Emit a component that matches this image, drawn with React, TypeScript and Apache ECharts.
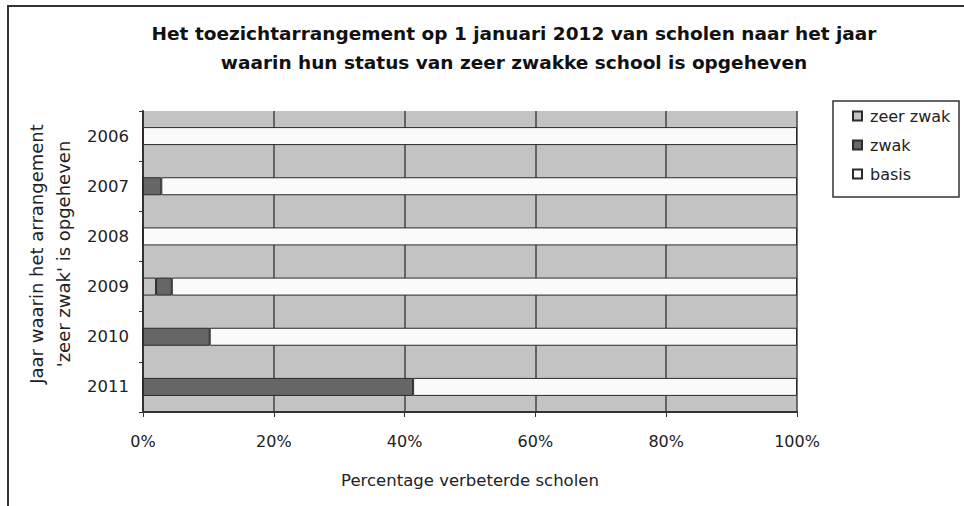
import React, { useEffect, useRef } from "react";
import * as echarts from "echarts";

const categories = ["2006", "2007", "2008", "2009", "2010", "2011"];
const zeerZwak = [0, 0, 0, 2.0, 0, 0];
const zwak = [0, 2.8, 0, 2.4, 10.2, 41.3];
const basis = [100, 97.2, 100, 95.6, 89.8, 58.7];
const xTicks = [0, 20, 40, 60, 80, 100];

const FONT = "DejaVu Sans, Verdana, sans-serif";

export default function App() {
  const ref = useRef<HTMLDivElement>(null);
  useEffect(() => {
    if (!ref.current) return;
    const chart = echarts.init(ref.current, undefined, { renderer: "svg" });
    const barBase = {
      type: "bar",
      stack: "total",
      barWidth: 18,
      itemStyle: { borderColor: "#2a2a2a", borderWidth: 1 },
    };
    chart.setOption({
      animation: false,
      backgroundColor: "#ffffff",
      textStyle: { fontFamily: FONT },
      title: {
        text: "Het toezichtarrangement op 1 januari 2012 van scholen naar het jaar\nwaarin hun status van zeer zwakke school is opgeheven",
        left: 509,
        top: 14,
        textAlign: "center",
        textStyle: {
          fontFamily: FONT,
          fontSize: 18.5,
          fontWeight: "bold",
          color: "#111",
          lineHeight: 29,
        },
      },
      legend: {
        orient: "vertical",
        left: 852,
        top: 108,
        padding: 0,
        itemWidth: 9,
        itemHeight: 9,
        itemGap: 13,
        icon: "rect",
        data: ["zeer zwak", "zwak", "basis"],
        textStyle: { fontFamily: FONT, fontSize: 16, color: "#222", padding: [0, 0, 0, 3] },
      },
      graphic: [
        {
          type: "rect",
          shape: { x: 8, y: 6, width: 1000, height: 600 },
          style: { fill: "none", stroke: "#333", lineWidth: 2 },
          silent: true,
        },
        {
          type: "rect",
          shape: { x: 833, y: 101, width: 126, height: 96 },
          style: { fill: "none", stroke: "#333", lineWidth: 1.5 },
          silent: true,
        },
        {
          type: "text",
          x: 50,
          y: 254,
          rotation: Math.PI / 2,
          style: {
            text: "Jaar waarin het arrangement\n'zeer zwak' is opgeheven",
            fontFamily: FONT,
            fontSize: 18,
            lineHeight: 27,
            fill: "#222",
            textAlign: "center",
            textVerticalAlign: "middle",
          },
        },
      ],
      grid: {
        left: 143,
        top: 111,
        width: 654,
        height: 301,
        show: true,
        backgroundColor: "#c3c3c3",
        borderWidth: 0,
      },
      xAxis: {
        type: "value",
        min: 0,
        max: 100,
        interval: 20,
        name: "Percentage verbeterde scholen",
        nameLocation: "middle",
        nameGap: 68,
        nameTextStyle: { fontFamily: FONT, fontSize: 16.5, color: "#222", verticalAlign: "middle" },
        axisLine: { show: true, lineStyle: { color: "#333", width: 2 } },
        axisTick: { show: true, length: 5, lineStyle: { color: "#333" } },
        axisLabel: {
          formatter: (v: number) => (xTicks.includes(v) ? v + "%" : ""),
          margin: 21,
          fontFamily: FONT,
          fontSize: 16,
          color: "#222",
        },
        splitLine: { show: true, lineStyle: { color: "#444", width: 1.5 } },
      },
      yAxis: {
        type: "category",
        data: categories,
        inverse: true,
        axisLine: { show: true, lineStyle: { color: "#333", width: 2 } },
        axisTick: { show: true, length: 4, lineStyle: { color: "#333" } },
        axisLabel: { margin: 14, fontFamily: FONT, fontSize: 16.5, color: "#222" },
        splitLine: { show: false },
      },
      series: [
        { ...barBase, name: "zeer zwak", data: zeerZwak, itemStyle: { ...barBase.itemStyle, color: "#c3c3c3" } },
        { ...barBase, name: "zwak", data: zwak, itemStyle: { ...barBase.itemStyle, color: "#666666" } },
        { ...barBase, name: "basis", data: basis, itemStyle: { ...barBase.itemStyle, color: "#fafafa" } },
      ],
    });
    return () => chart.dispose();
  }, []);
  return (
    <div style={{ position: "fixed", left: 0, top: 0 }}>
      <div ref={ref} style={{ width: 964, height: 506 }} />
    </div>
  );
}
